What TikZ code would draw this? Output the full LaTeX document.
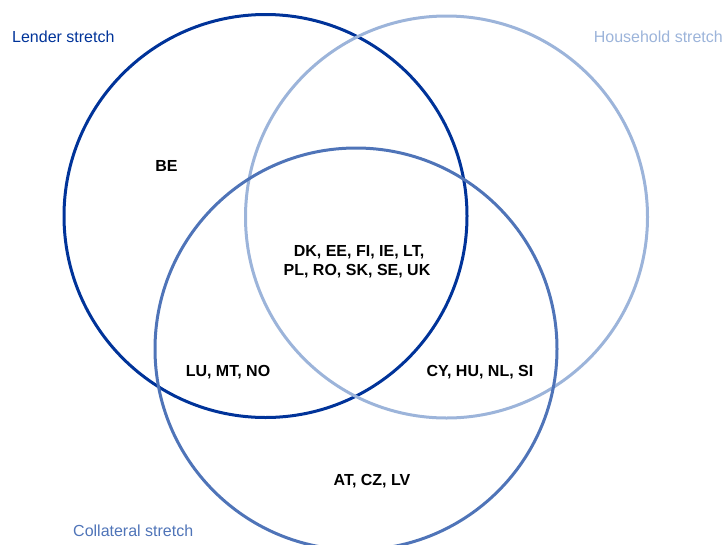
\documentclass[tikz,border=0pt]{standalone}
\usepackage{fontspec}
\setmainfont{Liberation Sans}
\definecolor{lenderc}{HTML}{003399}
\definecolor{housec}{HTML}{9CB4DA}
\definecolor{collc}{HTML}{4F74B8}
\begin{document}
\begin{tikzpicture}[x=1pt,y=-1pt,
  ring/.style={line width=3pt},
  setlabel/.style={font=\fontsize{16}{19}\selectfont, inner sep=0pt},
  country/.style={font=\fontsize{16}{19}\selectfont\bfseries, inner sep=0pt, align=center}]
\useasboundingbox (0,0) rectangle (725,544);
\draw[ring, lenderc] (265.5,216) circle[radius=201.5];
\draw[ring, housec] (446.5,217) circle[radius=201];
\draw[ring, collc] (356,349) circle[radius=201];
\node[setlabel, text=lenderc, anchor=base west] (lt) at (12,42.5) {Lender stretch};
\node[setlabel, text=housec, anchor=base east] (ht) at (723,42.5) {Household stretch};
\node[setlabel, text=collc, anchor=base west] (ct) at (73,536) {Collateral stretch};
\node[country, anchor=base] (be) at (166.5,171.7) {BE};
\node[country, anchor=base] (all1) at (359,256) {DK, EE, FI, IE, LT,};
\node[country, anchor=base] (all2) at (357,275) {PL, RO, SK, SE, UK};
\node[country, anchor=base] (lc) at (228,376) {LU, MT, NO};
\node[country, anchor=base] (hc) at (480,376.7) {CY, HU, NL, SI};
\node[country, anchor=base] (cc) at (372,485) {AT, CZ, LV};
\end{tikzpicture}
\end{document}
